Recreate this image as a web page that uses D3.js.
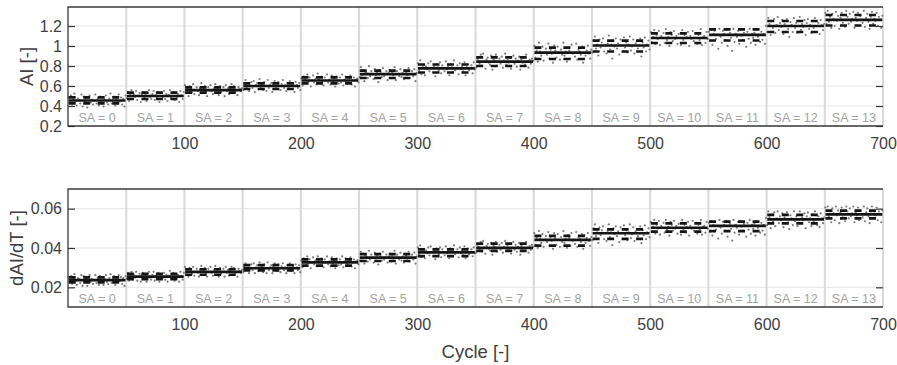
<!DOCTYPE html>
<html>
<head>
<meta charset="utf-8">
<script src="https://cdn.jsdelivr.net/npm/d3@7"></script>
<style>
  body { margin: 0; background: #fff; }
  svg text { font-family: "Liberation Sans", Arial, Helvetica, sans-serif; }
</style>
</head>
<body>
<svg id="chart" width="897" height="365"></svg>
<script>
// Stress-amplitude steps, 50 cycles each
const saSteps = [0, 1, 2, 3, 4, 5, 6, 7, 8, 9, 10, 11, 12, 13];
const cyclesPerStep = 50;
const cycleTicks = [100, 200, 300, 400, 500, 600, 700];
const aiTicks = [0.2, 0.4, 0.6, 0.8, 1, 1.2];
const daiTicks = [0.02, 0.04, 0.06];

// AI per step: fitted level and upper / lower band
const aiMean  = [0.455, 0.500, 0.558, 0.600, 0.655, 0.718, 0.777, 0.843, 0.933, 1.005, 1.080, 1.112, 1.200, 1.262];
const aiUpper = [0.487, 0.533, 0.587, 0.627, 0.687, 0.753, 0.815, 0.887, 0.983, 1.053, 1.127, 1.167, 1.250, 1.310];
const aiLower = [0.427, 0.470, 0.533, 0.570, 0.627, 0.680, 0.735, 0.800, 0.870, 0.945, 1.030, 1.055, 1.140, 1.205];

// dAI/dT per step: fitted level and upper / lower band
const daiMean  = [0.0237, 0.0254, 0.0279, 0.0297, 0.0327, 0.0351, 0.0378, 0.0401, 0.0441, 0.0475, 0.0503, 0.0513, 0.0546, 0.0571];
const daiUpper = [0.0251, 0.0268, 0.0292, 0.0313, 0.0342, 0.0369, 0.0393, 0.0422, 0.0462, 0.0495, 0.0525, 0.0534, 0.0568, 0.0590];
const daiLower = [0.0225, 0.0242, 0.0264, 0.0286, 0.0310, 0.0334, 0.0359, 0.0385, 0.0412, 0.0446, 0.0483, 0.0486, 0.0525, 0.0551];

// Per-cycle AI measurements, offset from the step level (units of 0.01)
const aiScatter = [
  [3,-2,5,-4,1,7,-1,-5,2,0,-3,6,-6,4,-1,2,-7,3,5,-2,1,-4,0,6,-3,2,-5,4,-1,3,-6,1,5,-2,-4,2,7,-3,0,4,-5,1,-2,6,-1,3,-4,2,-6,5],
  [-2,4,-5,1,6,-3,2,-1,5,-4,0,3,-6,2,4,-2,1,-5,3,6,-1,-3,2,5,-4,1,-2,4,-6,0,3,-1,5,-3,2,-5,1,6,-2,0,4,-4,3,-1,2,-6,5,1,-3,4],
  [5,-3,1,-6,4,2,-2,6,-4,0,3,-1,-5,2,7,-3,1,4,-2,-6,3,0,5,-1,-4,2,6,-3,1,-5,4,-2,0,3,-6,5,-1,2,-4,1,6,-3,4,-2,0,-5,3,1,-1,2],
  [-4,2,6,-1,3,-5,0,4,-2,5,-6,1,3,-3,7,-1,2,-4,4,0,-5,6,-2,1,3,-6,2,5,-1,-3,4,0,-4,2,6,-2,1,-5,3,-1,5,-3,0,2,-6,4,1,-2,3,-4],
  [2,-5,4,1,-3,6,-1,3,-6,0,5,-2,2,-4,7,1,-3,4,-1,-5,3,0,6,-2,1,-4,5,-1,2,-6,4,0,-3,3,-2,6,-5,1,4,-1,-3,2,5,-4,0,3,-6,1,2,-2],
  [-3,7,-1,4,-7,2,1,-4,8,-2,3,0,-5,5,-1,2,-8,4,1,-3,6,-2,0,3,-6,1,4,-4,2,-1,7,-6,3,0,-2,5,-3,1,-5,4,2,-1,6,-4,0,3,-2,5,-7,1],
  [5,-2,8,-6,1,3,-7,2,-1,5,-3,7,0,-4,2,-8,4,1,-2,6,-5,3,0,-3,7,-1,2,-7,4,1,-4,8,-2,0,3,-6,5,-1,2,-3,6,-7,1,4,-2,0,3,-5,6,-1],
  [-6,3,1,-2,7,-4,8,0,-7,2,4,-1,-3,6,-8,2,1,7,-4,0,3,-2,5,-6,1,8,-3,2,-1,4,-7,0,6,-2,3,-5,1,5,-8,2,-1,4,-3,7,0,-6,2,-2,3,1],
  [7,-5,2,-9,10,1,-3,6,-8,0,4,-2,9,-6,3,-1,-10,7,2,-5,6,0,-7,3,-2,10,-3,1,-9,5,2,-6,8,-1,0,-4,9,-7,3,1,-2,6,-10,5,-3,2,7,-1,-6,3],
  [-7,5,9,-3,1,-10,6,-2,3,7,-6,0,-8,2,10,-4,1,-13,5,-1,7,-3,2,-9,6,0,-6,8,-2,3,-7,1,9,-5,-1,6,-8,2,4,-3,0,7,-11,3,-2,8,-6,1,5,-4],
  [6,-4,1,8,-6,3,-1,7,-7,2,0,5,-5,9,-2,1,-8,6,3,-3,7,-1,2,-6,4,0,-7,8,-2,3,-5,1,6,-8,2,-1,7,-3,0,5,-6,3,-2,9,-7,1,2,-5,6,-1],
  [3,-6,5,-10,1,4,-4,0,-14,6,-2,-8,4,1,-5,5,-11,0,2,-3,-16,6,-7,1,-2,4,-9,5,-1,-5,2,0,-12,3,-4,6,-8,1,-3,2,-10,5,-2,0,-7,3,-5,1,-9,9],
  [-6,8,2,-9,5,-2,7,-7,1,9,-4,3,-1,6,-8,2,0,7,-3,-11,4,1,-6,8,-2,3,-7,0,9,-4,2,-1,6,-9,3,7,-3,1,-7,5,-2,8,0,-6,3,-8,6,1,-4,2],
  [7,-4,9,-2,3,-8,6,1,-6,8,-1,4,-9,2,7,-3,0,-7,9,3,-4,6,-2,1,8,-8,2,-1,7,-6,4,0,-3,9,-7,2,6,-2,-9,3,8,-4,1,-1,7,-6,3,0,-8,4]
];

// Per-cycle dAI/dT measurements, offset from the step level (units of 0.0005)
const daiScatter = [
  [3,-2,4,-4,1,6,-1,-5,2,1,-3,5,-6,4,-1,2,-6,3,5,-2,1,-4,0,5,-3,2,-5,4,-1,3,-5,1,5,-2,-4,2,6,-3,0,4,-5,1,-2,5,-1,3,-4,2,-6,4],
  [-2,4,-4,1,5,-3,2,-1,5,-4,0,3,-5,2,4,-2,1,-5,3,5,-1,-3,2,5,-4,1,-2,4,-5,0,3,-1,4,-3,2,-5,1,6,-2,0,4,-4,3,-1,2,-5,5,1,-3,4],
  [5,-3,1,-5,4,2,-2,5,-4,0,3,-1,-5,2,6,-3,1,4,-2,-5,3,0,5,-1,-4,2,6,-3,1,-5,4,-2,0,3,-5,5,-1,2,-4,1,5,-3,4,-2,0,-5,3,1,-1,2],
  [-4,2,5,-1,3,-5,0,4,-2,5,-5,1,3,-3,6,-1,2,-4,4,0,-5,6,-2,1,3,-5,2,5,-1,-3,4,0,-4,2,5,-2,1,-5,3,-1,5,-3,0,2,-5,4,1,-2,3,-4],
  [2,-5,4,1,-3,6,-1,3,-6,0,5,-2,2,-4,6,1,-3,4,-1,-5,3,0,6,-2,1,-4,5,-1,2,-6,4,0,-3,3,-2,6,-5,1,4,-1,-3,2,5,-4,0,3,-6,1,2,-2],
  [-3,6,-1,4,-6,2,1,-4,7,-2,3,0,-5,5,-1,2,-7,4,1,-3,6,-2,0,3,-5,1,4,-4,2,-1,7,-6,3,0,-2,5,-3,1,-5,4,2,-1,6,-4,0,3,-2,5,-6,1],
  [5,-2,7,-5,1,3,-6,2,-1,5,-3,6,0,-4,2,-7,4,1,-2,5,-5,3,0,-3,6,-1,2,-6,4,1,-4,7,-2,0,3,-5,5,-1,2,-3,6,-6,1,4,-2,0,3,-4,5,-1],
  [-5,3,1,-2,6,-4,7,0,-6,2,4,-1,-3,5,-7,2,1,6,-4,0,3,-2,5,-5,1,7,-3,2,-1,4,-6,0,6,-2,3,-4,1,5,-7,2,-1,4,-3,6,0,-5,2,-2,3,1],
  [7,-5,2,-8,9,1,-3,6,-7,0,4,-2,8,-6,3,-1,-9,7,2,-5,6,0,-7,3,-2,9,-3,1,-8,5,2,-6,7,-1,0,-4,8,-7,3,1,-2,6,-9,5,-3,2,7,-1,-6,3],
  [-7,5,9,-3,1,-10,6,-2,3,7,-6,0,-8,2,9,-4,1,-12,5,-1,7,-3,2,-9,6,0,-6,8,-2,3,-7,1,9,-5,-1,6,-8,2,4,-3,0,7,-10,3,-2,8,-6,1,5,-4],
  [6,-4,1,8,-6,3,-1,7,-7,2,0,5,-5,8,-2,1,-8,6,3,-3,7,-1,2,-6,4,0,-7,8,-2,3,-5,1,6,-8,2,-1,7,-3,0,5,-6,3,-2,8,-7,1,2,-5,6,-1],
  [3,-6,5,-10,1,4,-4,0,-13,6,-2,-8,4,1,-5,5,-11,0,2,-3,-15,6,-7,1,-2,4,-9,5,-1,-5,2,0,-11,3,-4,6,-8,1,-3,2,-10,5,-2,0,-7,3,-5,1,-9,8],
  [-6,8,2,-9,5,-2,7,-7,1,8,-4,3,-1,6,-8,2,0,7,-3,-10,4,1,-6,8,-2,3,-7,0,8,-4,2,-1,6,-9,3,7,-3,1,-7,5,-2,8,0,-6,3,-8,6,1,-4,2],
  [7,-4,8,-2,3,-8,6,1,-6,8,-1,4,-9,2,7,-3,0,-7,8,3,-4,6,-2,1,8,-8,2,-1,7,-6,4,0,-3,8,-7,2,6,-2,-9,3,8,-4,1,-1,7,-6,3,0,-8,4]
];

const svg = d3.select("#chart");
const plotLeft = 68, plotRight = 883;

const x = d3.scaleLinear()
  .domain([0, saSteps.length * cyclesPerStep])
  .range([plotLeft, plotRight]);

const fmt = d3.format("~g");
const line = d3.line();
const textColor = "#404040";

function drawPanel(opt) {
  const y = d3.scaleLinear().domain(opt.domain).range([opt.bottom, opt.top]);
  const g = svg.append("g");

  // horizontal grid
  g.append("g").selectAll("line").data(opt.ticks).join("line")
    .attr("x1", plotLeft).attr("x2", plotRight)
    .attr("y1", d => y(d)).attr("y2", d => y(d))
    .attr("stroke", "#e6e6e6").attr("stroke-width", 1);

  // step separators
  const bounds = saSteps.map(s => (s + 1) * cyclesPerStep);
  g.append("g").selectAll("line").data(bounds).join("line")
    .attr("x1", d => x(d)).attr("x2", d => x(d))
    .attr("y1", opt.top).attr("y2", opt.bottom)
    .attr("stroke", "#d9d9d9").attr("stroke-width", 2);

  // measured points
  const pts = [];
  saSteps.forEach((s, k) => {
    const row = opt.scatter[k];
    row.forEach((o, i) => {
      pts.push({
        c: s * cyclesPerStep + (i + 0.5) * cyclesPerStep / row.length,
        v: opt.mean[k] + o * opt.unit
      });
    });
  });
  g.append("g").selectAll("circle").data(pts).join("circle")
    .attr("cx", d => x(d.c)).attr("cy", d => y(d.v))
    .attr("r", 1.1).attr("fill", "#7c7c7c");

  // band lines (dashed) and level line (solid)
  saSteps.forEach((s, k) => {
    const c0 = s * cyclesPerStep + 0.6, c1 = (s + 1) * cyclesPerStep - 0.6;
    [opt.upper[k], opt.lower[k]].forEach(v => {
      g.append("path")
        .attr("d", line([[x(c0), y(v)], [x(c1), y(v)]]))
        .attr("stroke", "#151515").attr("stroke-width", 2.7)
        .attr("stroke-dasharray", "7,7.5").attr("fill", "none");
    });
    g.append("path")
      .attr("d", line([[x(c0), y(opt.mean[k])], [x(c1), y(opt.mean[k])]]))
      .attr("stroke", "#151515").attr("stroke-width", 2.7).attr("fill", "none");
  });

  // step labels
  g.append("g").selectAll("text").data(saSteps).join("text")
    .attr("x", d => x((d + 0.5) * cyclesPerStep))
    .attr("y", opt.bottom - 4.5)
    .attr("text-anchor", "middle")
    .attr("font-size", 12.5)
    .attr("fill", "#a3a3a3")
    .text(d => `SA = ${d}`);

  // left axis with inward ticks
  const ax = g.append("g").attr("transform", `translate(${plotLeft},0)`)
    .call(d3.axisLeft(y).tickValues(opt.ticks).tickFormat(fmt)
      .tickSizeInner(-7).tickSizeOuter(0).tickPadding(6));
  ax.select(".domain").remove();
  ax.selectAll("line").attr("stroke", "#333").attr("stroke-width", 1.2);
  ax.selectAll("text").attr("font-size", 16).attr("fill", textColor)
    .attr("font-family", "Liberation Sans, Arial, sans-serif");

  // right axis ticks only
  const axr = g.append("g").attr("transform", `translate(${plotRight},0)`)
    .call(d3.axisRight(y).tickValues(opt.ticks).tickFormat("")
      .tickSizeInner(-7).tickSizeOuter(0));
  axr.select(".domain").remove();
  axr.selectAll("line").attr("stroke", "#333").attr("stroke-width", 1.2);

  // bottom tick labels
  const axb = g.append("g").attr("transform", `translate(0,${opt.bottom})`)
    .call(d3.axisBottom(x).tickValues(cycleTicks).tickFormat(d3.format("d"))
      .tickSize(0).tickPadding(12));
  axb.select(".domain").remove();
  axb.selectAll("text").attr("font-size", 16).attr("fill", textColor)
    .attr("font-family", "Liberation Sans, Arial, sans-serif");

  // frame: left, top, bottom
  g.append("path")
    .attr("d", line([[plotRight, opt.top], [plotLeft, opt.top], [plotLeft, opt.bottom], [plotRight, opt.bottom]]))
    .attr("fill", "none").attr("stroke", "#3a3a3a").attr("stroke-width", 1.3);

  // y label
  g.append("text")
    .attr("transform", `translate(${opt.labelX},${(opt.top + opt.bottom) / 2}) rotate(-90)`)
    .attr("text-anchor", "middle")
    .attr("font-size", 18.5)
    .attr("fill", textColor)
    .text(opt.label);
}

drawPanel({
  top: 7, bottom: 126, domain: [0.2, 1.39], ticks: aiTicks,
  mean: aiMean, upper: aiUpper, lower: aiLower, scatter: aiScatter, unit: 0.01,
  label: "AI [-]", labelX: 33
});

drawPanel({
  top: 189, bottom: 307, domain: [0.01, 0.07], ticks: daiTicks,
  mean: daiMean, upper: daiUpper, lower: daiLower, scatter: daiScatter, unit: 0.0005,
  label: "dAI/dT [-]", labelX: 23
});

svg.append("text")
  .attr("x", (plotLeft + plotRight) / 2).attr("y", 358)
  .attr("text-anchor", "middle")
  .attr("font-size", 18.5)
  .attr("fill", textColor)
  .text("Cycle [-]");
</script>
</body>
</html>
